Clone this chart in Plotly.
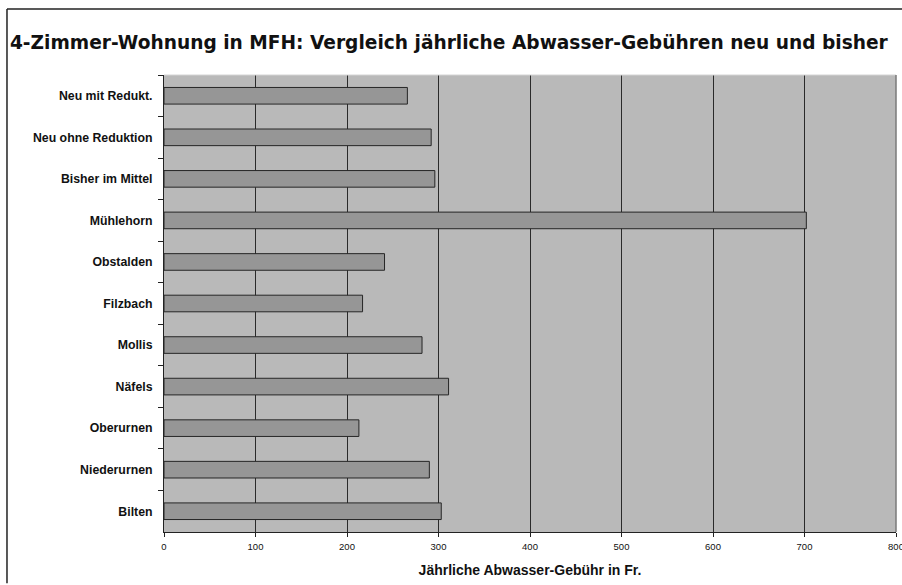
import plotly.graph_objects as go

# Annual wastewater fees for a 4-room flat, by municipality (Fr.)
categories = [
    "Neu mit Redukt.",
    "Neu ohne Reduktion",
    "Bisher im Mittel",
    "Mühlehorn",
    "Obstalden",
    "Filzbach",
    "Mollis",
    "Näfels",
    "Oberurnen",
    "Niederurnen",
    "Bilten",
]
fees = [266, 292, 296, 702, 241, 217, 282, 311, 213, 290, 303]
tick_values = [0, 100, 200, 300, 400, 500, 600, 700, 800]

fig = go.Figure(
    go.Bar(
        x=fees,
        y=categories,
        orientation="h",
        marker=dict(color="#969696", line=dict(color="#262626", width=1)),
        hoverinfo="x+y",
    )
)

fig.update_layout(
    width=902,
    height=585,
    margin=dict(l=164, r=6, t=75, b=53),
    paper_bgcolor="white",
    plot_bgcolor="#b9b9b9",
    bargap=0.6,
    showlegend=False,
    title=dict(
        text="4-Zimmer-Wohnung in MFH: Vergleich jährliche Abwasser-Gebühren neu und bisher",
        x=0.011,
        xanchor="left",
        y=0.927,
        yanchor="middle",
        font=dict(family="DejaVu Sans", size=18.6, color="#111111", weight="bold"),
    ),
    font=dict(family="Liberation Sans", color="#111111"),
)

fig.update_xaxes(
    range=[0, 800],
    tickvals=tick_values,
    ticks="outside",
    ticklen=4,
    tickcolor="#222222",
    tickfont=dict(size=9.5, family="Liberation Sans"),
    ticklabelstandoff=2,
    ticklabeloverflow="allow",
    automargin=False,
    showgrid=True,
    gridcolor="#2a2a2a",
    gridwidth=1,
    showline=True,
    linecolor="#222222",
    linewidth=1,
    zeroline=False,
    title=dict(
        text="<b>Jährliche Abwasser-Gebühr in Fr.</b>",
        font=dict(size=14, family="Liberation Sans"),
        standoff=13,
    ),
)

fig.update_yaxes(
    autorange="reversed",
    automargin=False,
    ticks="outside",
    tickson="boundaries",
    ticklen=5,
    tickcolor="#222222",
    tickfont=dict(size=12.3, family="Liberation Sans", weight="bold"),
    ticklabelstandoff=8,
    showline=True,
    linecolor="#222222",
    linewidth=1,
    showgrid=False,
)

# plot-area edges: light top, grey right
fig.add_shape(type="line", xref="paper", yref="paper", x0=0, x1=1, y0=1, y1=1,
              line=dict(color="#d4d4d4", width=1), layer="above")
fig.add_shape(type="line", xref="paper", yref="paper", x0=1, x1=1, y0=0, y1=1,
              line=dict(color="#7a7a7a", width=1.5), layer="above")

# outer frame (top and left)
fig.add_shape(type="line", xref="paper", yref="paper", x0=-0.2145, x1=1.01, y0=1.1444, y1=1.1444,
              line=dict(color="#222222", width=1.5), layer="above")
fig.add_shape(type="line", xref="paper", yref="paper", x0=-0.2145, x1=-0.2145, y0=-0.112, y1=1.1444,
              line=dict(color="#222222", width=1.5), layer="above")

fig.write_html("out.html")
